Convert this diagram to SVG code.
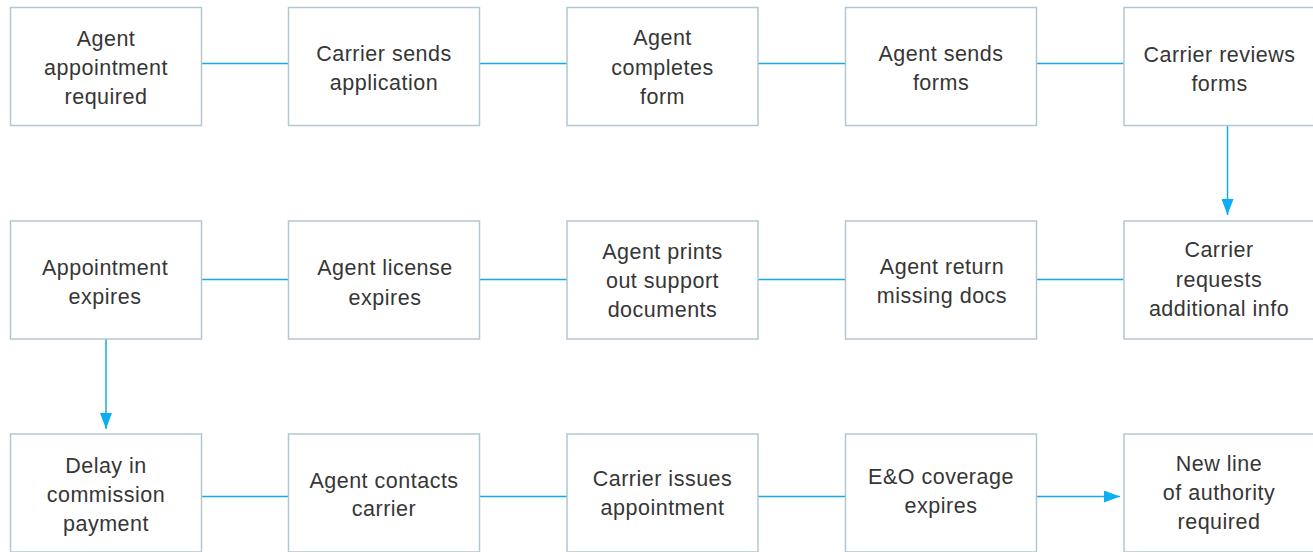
<svg xmlns="http://www.w3.org/2000/svg" width="1313" height="552" viewBox="0 0 1313 552">
<defs>
<style>
.box{fill:#fff;stroke:#b3c7d1;stroke-width:1.5}
.t{font-family:"Liberation Sans",Arial,sans-serif;font-size:21.5px;letter-spacing:0.5px;fill:#363636;text-anchor:middle}
.c{stroke:#14aae4;stroke-width:1.5;fill:none}
</style>
<marker id="ah" markerWidth="16" markerHeight="12" refX="16" refY="6" orient="auto" markerUnits="userSpaceOnUse">
<path d="M0,0 L16,6 L0,12 Z" fill="#0baef0"/>
</marker>
</defs>
<rect width="1313" height="552" fill="#fff"/>
<g id="connectors">
<line class="c" x1="201.5" y1="63.5" x2="288.5" y2="63.5"/>
<line class="c" x1="479.5" y1="63.5" x2="567" y2="63.5"/>
<line class="c" x1="758" y1="63.5" x2="845.5" y2="63.5"/>
<line class="c" x1="1036.5" y1="63.5" x2="1124" y2="63.5"/>
<line class="c" x1="1227.5" y1="125.5" x2="1227.5" y2="215" marker-end="url(#ah)"/>
<line class="c" x1="201.5" y1="279.5" x2="288.5" y2="279.5"/>
<line class="c" x1="479.5" y1="279.5" x2="567" y2="279.5"/>
<line class="c" x1="758" y1="279.5" x2="845.5" y2="279.5"/>
<line class="c" x1="1036.5" y1="279.5" x2="1124" y2="279.5"/>
<line class="c" x1="106" y1="339" x2="106" y2="429" marker-end="url(#ah)"/>
<line class="c" x1="201.5" y1="496.5" x2="288.5" y2="496.5"/>
<line class="c" x1="479.5" y1="496.5" x2="567" y2="496.5"/>
<line class="c" x1="758" y1="496.5" x2="845.5" y2="496.5"/>
<line class="c" x1="1036.5" y1="496.5" x2="1120" y2="496.5" marker-end="url(#ah)"/>
</g>
<g id="n1"><rect class="box" x="10.5" y="7.5" width="191" height="118"/><text class="t" x="106" y="46">Agent</text><text class="t" x="106" y="75">appointment</text><text class="t" x="106" y="104">required</text></g>
<g id="n2"><rect class="box" x="288.5" y="7.5" width="191" height="118"/><text class="t" x="384" y="61">Carrier sends</text><text class="t" x="384" y="90">application</text></g>
<g id="n3"><rect class="box" x="567" y="7.5" width="191" height="118"/><text class="t" x="662.5" y="45">Agent</text><text class="t" x="662.5" y="75">completes</text><text class="t" x="662.5" y="104">form</text></g>
<g id="n4"><rect class="box" x="845.5" y="7.5" width="191" height="118"/><text class="t" x="941" y="61">Agent sends</text><text class="t" x="941" y="90">forms</text></g>
<g id="n5"><rect class="box" x="1124" y="7.5" width="191" height="118"/><text class="t" x="1219.5" y="62">Carrier reviews</text><text class="t" x="1219.5" y="91">forms</text></g>
<g id="n6"><rect class="box" x="10.5" y="221" width="191" height="118"/><text class="t" x="105" y="275">Appointment</text><text class="t" x="105" y="304">expires</text></g>
<g id="n7"><rect class="box" x="288.5" y="221" width="191" height="118"/><text class="t" x="385" y="275">Agent license</text><text class="t" x="385" y="305">expires</text></g>
<g id="n8"><rect class="box" x="567" y="221" width="191" height="118"/><text class="t" x="662.5" y="259">Agent prints</text><text class="t" x="662.5" y="288">out support</text><text class="t" x="662.5" y="317">documents</text></g>
<g id="n9"><rect class="box" x="845.5" y="221" width="191" height="118"/><text class="t" x="942" y="274">Agent return</text><text class="t" x="942" y="303">missing docs</text></g>
<g id="n10"><rect class="box" x="1124" y="221" width="191" height="118"/><text class="t" x="1219" y="257">Carrier</text><text class="t" x="1219" y="287">requests</text><text class="t" x="1219" y="316">additional info</text></g>
<g id="n11"><rect class="box" x="10.5" y="434" width="191" height="118"/><text class="t" x="106" y="473">Delay in</text><text class="t" x="106" y="502">commission</text><text class="t" x="106" y="531">payment</text></g>
<g id="n12"><rect class="box" x="288.5" y="434" width="191" height="118"/><text class="t" x="384" y="488">Agent contacts</text><text class="t" x="384" y="516">carrier</text></g>
<g id="n13"><rect class="box" x="567" y="434" width="191" height="118"/><text class="t" x="662.5" y="486">Carrier issues</text><text class="t" x="662.5" y="515">appointment</text></g>
<g id="n14"><rect class="box" x="845.5" y="434" width="191" height="118"/><text class="t" x="941" y="484">E&amp;O coverage</text><text class="t" x="941" y="513">expires</text></g>
<g id="n15"><rect class="box" x="1124" y="434" width="191" height="118"/><text class="t" x="1219" y="471">New line</text><text class="t" x="1219" y="500">of authority</text><text class="t" x="1219" y="529">required</text></g>
</svg>
